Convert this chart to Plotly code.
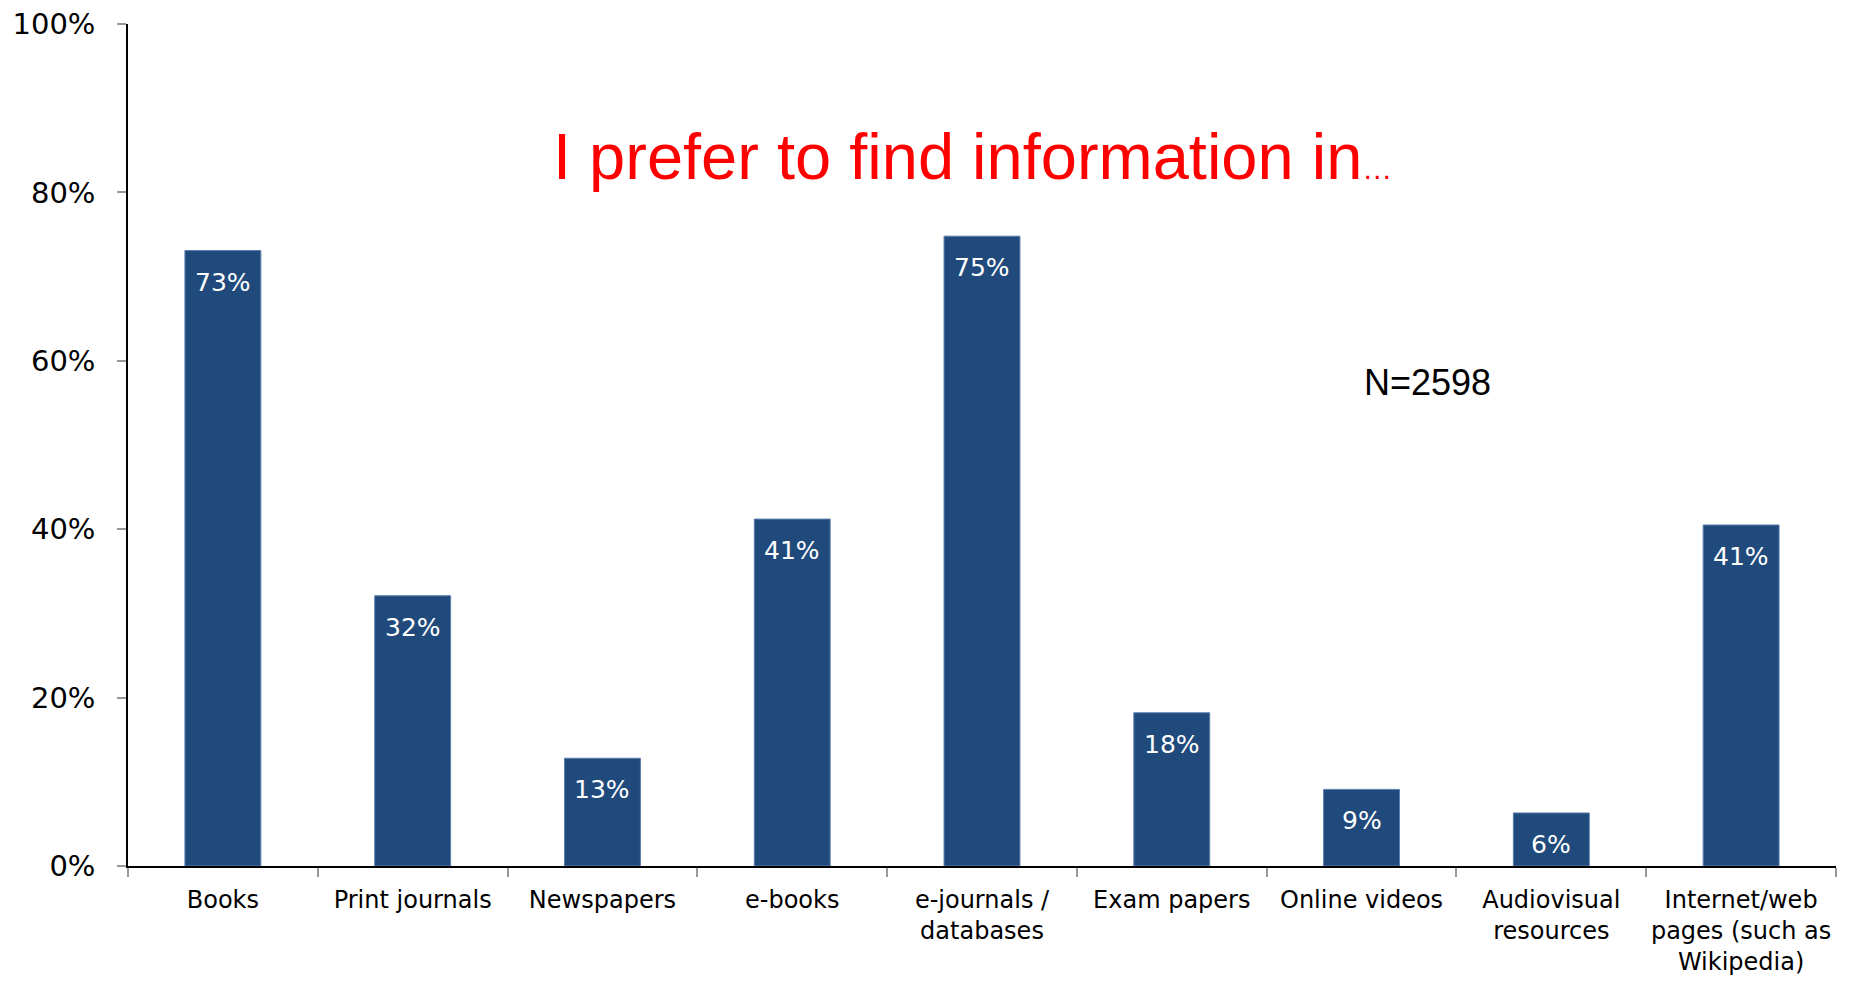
import plotly.graph_objects as go

categories = ["Books", "Print journals", "Newspapers", "e-books", "e-journals /<br>databases",
              "Exam papers", "Online videos", "Audiovisual<br>resources",
              "Internet/web<br>pages (such as<br>Wikipedia)"]
values = [0.731, 0.321, 0.128, 0.412, 0.748, 0.182, 0.091, 0.063, 0.405]
labels = ["73%", "32%", "13%", "41%", "75%", "18%", "9%", "6%", "41%"]
title_text = "I prefer to find information in<span style='font-size:30px'>…</span>"
n_text = "N=2598"

BAR = "#204A7C"

fig = go.Figure()
fig.add_trace(go.Bar(
    x=categories, y=values,
    marker=dict(color=BAR, line=dict(color="#5B7FAE", width=1)),
    width=0.4, hoverinfo="skip",
))

for c, v, t in zip(categories, values, labels):
    fig.add_annotation(x=c, y=v, text=t, showarrow=False, xref="x", yref="y",
                       yanchor="top", yshift=-15,
                       font=dict(family="DejaVu Sans", size=25, color="white"))

fig.add_annotation(x=0.4945, y=0.843, xref="paper", yref="paper", text=title_text,
                   showarrow=False, xanchor="center", yanchor="middle",
                   font=dict(family="Liberation Sans, Arial", size=65, color="#FF0000"))
fig.add_annotation(x=0.761, y=0.574, xref="paper", yref="paper", text=n_text,
                   showarrow=False, xanchor="center", yanchor="middle",
                   font=dict(family="Liberation Sans, Arial", size=36, color="black"))

fig.update_layout(
    width=1851, height=982,
    margin=dict(l=120, r=23, t=16, b=124),
    plot_bgcolor="white", paper_bgcolor="white",
    showlegend=False, bargap=0.6,
    font=dict(family="DejaVu Sans", color="black"),
)
fig.update_xaxes(
    type="category", automargin=False,
    range=[-0.5, len(categories) - 0.5],
    showline=True, linecolor="black", linewidth=1.5,
    ticks="outside", tickson="boundaries", ticklen=9, tickcolor="#999999", tickwidth=1.5,
    tickfont=dict(family="DejaVu Sans", size=24, color="black"),
    ticklabelstandoff=11, tickangle=0,
    showgrid=False, zeroline=False,
)
fig.update_yaxes(
    range=[0, 1], dtick=0.2, tick0=0, tickformat=".0%", automargin=False,
    showline=True, linecolor="black", linewidth=1.5,
    ticks="outside", ticklen=9, tickcolor="#999999", tickwidth=1.5,
    tickfont=dict(family="DejaVu Sans", size=29, color="black"),
    ticklabelstandoff=16, ticklabeloverflow="allow",
    showgrid=False, zeroline=False,
)

fig.write_html("out.html")
